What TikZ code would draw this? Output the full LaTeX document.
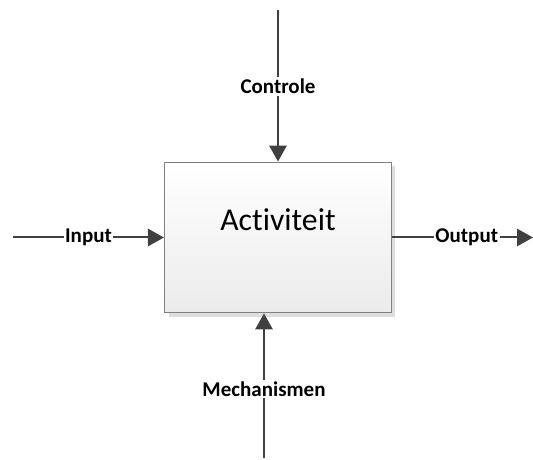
\documentclass[tikz,border=0pt]{standalone}
\usepackage{fontspec}
\setmainfont{Carlito}[Ligatures={NoCommon,NoRare}]
\usetikzlibrary{arrows.meta,shadows}
\definecolor{darkline}{HTML}{404040}
\definecolor{boxline}{HTML}{808080}
\definecolor{boxfill}{HTML}{EBEBEB}

\begin{document}
\begin{tikzpicture}[x=.75pt, y=-.75pt,
		flow/.style={draw=darkline, line width=1.5pt, -{Triangle[width=13pt, length=12pt]}},
		tag/.style={fill=white, inner sep=1.2pt, text=black, font=\fontsize{15.75}{18}\selectfont\bfseries},
		activity/.style={draw=boxline, line width=1.1pt, top color=white, bottom color=boxfill,
			minimum width=170pt, minimum height=112.8pt, inner sep=0pt,
			drop shadow={shadow xshift=3pt, shadow yshift=-3pt, fill=black!13, opacity=1}}]
		\useasboundingbox (0,0) rectangle (533,460);
		% the activity box
		\node[activity] (act) at (278,237.5) {};
		\node[anchor=base, inner sep=0pt, font=\fontsize{23.8}{28}\selectfont] (title)
			at ([yshift=4.9pt]act.center) {Activiteit};
		% free ends of the four arrows
		\coordinate (ctrlin) at (278,10);
		\coordinate (mechin) at (264,458);
		\coordinate (inputin) at (13,237.5);
		\coordinate (outputout) at (533,237.5);
		\draw[flow] (ctrlin) -- node[tag, pos=.505] (ctrl) {Controle} (act.north);
		\draw[flow] (mechin) -- node[tag, pos=.476] (mech) {Mechanismen} (mechin |- act.south);
		\draw[flow] (inputin) -- node[tag] (input) {Input} (act.west);
		\draw[flow] (act.east) -- node[tag, pos=.53] (output) {Output} (outputout);
	\end{tikzpicture}
\end{document}
